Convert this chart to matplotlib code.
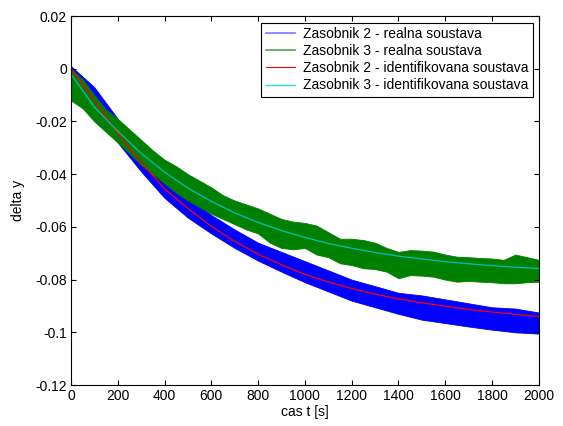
import matplotlib
matplotlib.use('Agg')
import matplotlib.pyplot as plt
from matplotlib.lines import Line2D
import numpy as np

plt.rcParams['font.family'] = ['Liberation Sans', 'DejaVu Sans']

# time axis [s]
t = [0, 100, 200, 300, 400, 500, 600, 700, 800, 900, 1000,
     1100, 1200, 1300, 1400, 1500, 1600, 1700, 1800, 1900, 2000]
# finer time axis for the green noise band
t_fine = list(range(0, 2001, 50))

# Zasobnik 2 - real system (noise band: upper / lower envelope)
z2_real_hi = [0.001, -0.007, -0.019, -0.030, -0.041, -0.0485, -0.0555,
              -0.061, -0.066, -0.0695, -0.073, -0.0765, -0.080, -0.0825,
              -0.085, -0.086, -0.0875, -0.089, -0.0905, -0.091, -0.0925]
z2_real_lo = [-0.002, -0.015, -0.028, -0.039, -0.049, -0.0565, -0.0625,
              -0.068, -0.0728, -0.077, -0.081, -0.0845, -0.088, -0.0905,
              -0.093, -0.0952, -0.0965, -0.0978, -0.099, -0.100, -0.1005]

# Zasobnik 3 - real system (noise band, every 50 s)
z3_real_hi = [0.0, -0.004, -0.010, -0.0155, -0.019, -0.023, -0.027,
              -0.031, -0.0345, -0.037, -0.040, -0.0425, -0.045, -0.048,
              -0.050, -0.0515, -0.053, -0.055, -0.057, -0.058, -0.0585,
              -0.0595, -0.062, -0.0645, -0.0645, -0.065, -0.066, -0.068,
              -0.0695, -0.0688, -0.069, -0.0694, -0.0705, -0.0713, -0.0715,
              -0.0718, -0.072, -0.0725, -0.0705, -0.0715, -0.0725]
z3_real_lo = [-0.012, -0.015, -0.020, -0.024, -0.028, -0.032, -0.0365,
              -0.040, -0.0435, -0.047, -0.050, -0.0525, -0.055, -0.057,
              -0.059, -0.061, -0.0625, -0.066, -0.068, -0.0685, -0.068,
              -0.0705, -0.0715, -0.0738, -0.0745, -0.0757, -0.076, -0.077,
              -0.0795, -0.0783, -0.0785, -0.0789, -0.080, -0.0808, -0.0805,
              -0.0808, -0.081, -0.0814, -0.0814, -0.081, -0.0808]

# identified models
z2_ident = [0.0, -0.012, -0.0245, -0.0355, -0.0455, -0.053, -0.0598,
            -0.0655, -0.0703, -0.0744, -0.078, -0.0809, -0.0834, -0.0855,
            -0.0873, -0.0888, -0.0901, -0.0913, -0.0923, -0.0932, -0.094]
z3_ident = [-0.002, -0.0145, -0.0237, -0.0321, -0.0392, -0.0453, -0.0503,
            -0.0547, -0.0583, -0.0614, -0.064, -0.0663, -0.0681, -0.0697,
            -0.0711, -0.0722, -0.0732, -0.074, -0.0747, -0.0753, -0.0758]

labels = ['Zasobnik 2 - realna soustava',
          'Zasobnik 3 - realna soustava',
          'Zasobnik 2 - identifikovana soustava',
          'Zasobnik 3 - identifikovana soustava']

fig = plt.figure(figsize=(5.63, 4.26), dpi=100)
ax = fig.add_axes([0.126, 0.0962, 0.831, 0.8662])

ax.fill_between(t, z2_real_lo, z2_real_hi, color='#0000ff', lw=0.6)
ax.fill_between(t_fine, z3_real_lo, z3_real_hi, color='#008000', lw=0.6)
ax.plot(t, z2_ident, color='#ff0000', lw=0.9)
ax.plot(t, z3_ident, color='#00bfbf', lw=0.9)

ax.set_xlim(0, 2000)
ax.set_ylim(-0.12, 0.02)
ax.set_xticks(np.arange(0, 2001, 200))
ax.set_yticks([-0.12, -0.1, -0.08, -0.06, -0.04, -0.02, 0, 0.02])
ax.set_yticklabels(['-0.12', '-0.1', '-0.08', '-0.06', '-0.04', '-0.02',
                    '0', '0.02'])
ax.tick_params(direction='in', length=3.5, width=0.8, labelsize=10,
               top=True, right=True, pad=3)
for s in ax.spines.values():
    s.set_linewidth(0.8)

ax.set_xlabel('cas t [s]', fontsize=10, labelpad=1)
ax.set_ylabel('delta y', fontsize=10, labelpad=7)

handles = [Line2D([], [], color='#7878ff', lw=1.2),
           Line2D([], [], color='#5aa05a', lw=1.2),
           Line2D([], [], color='#ff0000', lw=0.8),
           Line2D([], [], color='#30d8d8', lw=1.0)]
leg = ax.legend(handles, labels, loc='upper right',
                bbox_to_anchor=(0.987, 0.981), borderaxespad=0,
                fontsize=10, fancybox=False, framealpha=1,
                edgecolor='black', handlelength=2.1, handletextpad=0.6,
                labelspacing=0.22, borderpad=0.3)
leg.get_frame().set_linewidth(0.8)

fig.savefig('out.png', dpi=100)
